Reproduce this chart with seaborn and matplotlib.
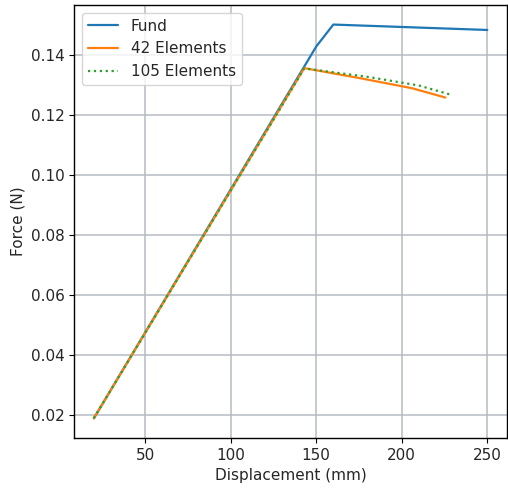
import matplotlib
matplotlib.use("Agg")
import matplotlib.pyplot as plt
import seaborn as sns
import pandas as pd

fund_x = [20, 150, 160, 200, 250]
fund_y = [0.019, 0.1428, 0.1501, 0.1493, 0.1483]

e42_x = [20, 143, 177, 206, 225.5]
e42_y = [0.019, 0.1356, 0.1321, 0.1289, 0.1258]

e105_x = [20, 143, 180, 210, 229]
e105_y = [0.019, 0.1355, 0.1327, 0.1298, 0.1267]

sns.set_style("ticks")
plt.rcParams['font.family'] = ['DejaVu Sans']
fs = 11

fig = plt.figure(figsize=(5.08, 4.88), dpi=100)
ax = fig.add_axes([0.146, 0.1025, 0.852, 0.8875])

df1 = pd.DataFrame({"x": fund_x, "y": fund_y})
df2 = pd.DataFrame({"x": e42_x, "y": e42_y})
df3 = pd.DataFrame({"x": e105_x, "y": e105_y})

pal = sns.color_palette("tab10")
sns.lineplot(data=df1, x="x", y="y", ax=ax, color=pal[0], lw=1.6, label="Fund", sort=False)
sns.lineplot(data=df2, x="x", y="y", ax=ax, color=pal[1], lw=1.6, label="42 Elements", sort=False)
sns.lineplot(data=df3, x="x", y="y", ax=ax, color=pal[2], lw=1.6, ls=":", label="105 Elements", sort=False)

ax.grid(True, color="#b4bcc2", lw=1.1)
ax.set_axisbelow(True)
ax.set_xlabel("Displacement (mm)", fontsize=fs)
ax.set_ylabel("Force (N)", fontsize=fs)
ax.set_xticks([50, 100, 150, 200, 250])
ax.set_yticks([0.02, 0.04, 0.06, 0.08, 0.10, 0.12, 0.14])
ax.set_yticklabels(["0.02", "0.04", "0.06", "0.08", "0.10", "0.12", "0.14"])
ax.tick_params(labelsize=fs, color="black")
for s in ax.spines.values():
    s.set_color("black")
    s.set_linewidth(1.0)
ax.legend(loc="upper left", fontsize=fs)

fig.savefig("out.png", dpi=100)
